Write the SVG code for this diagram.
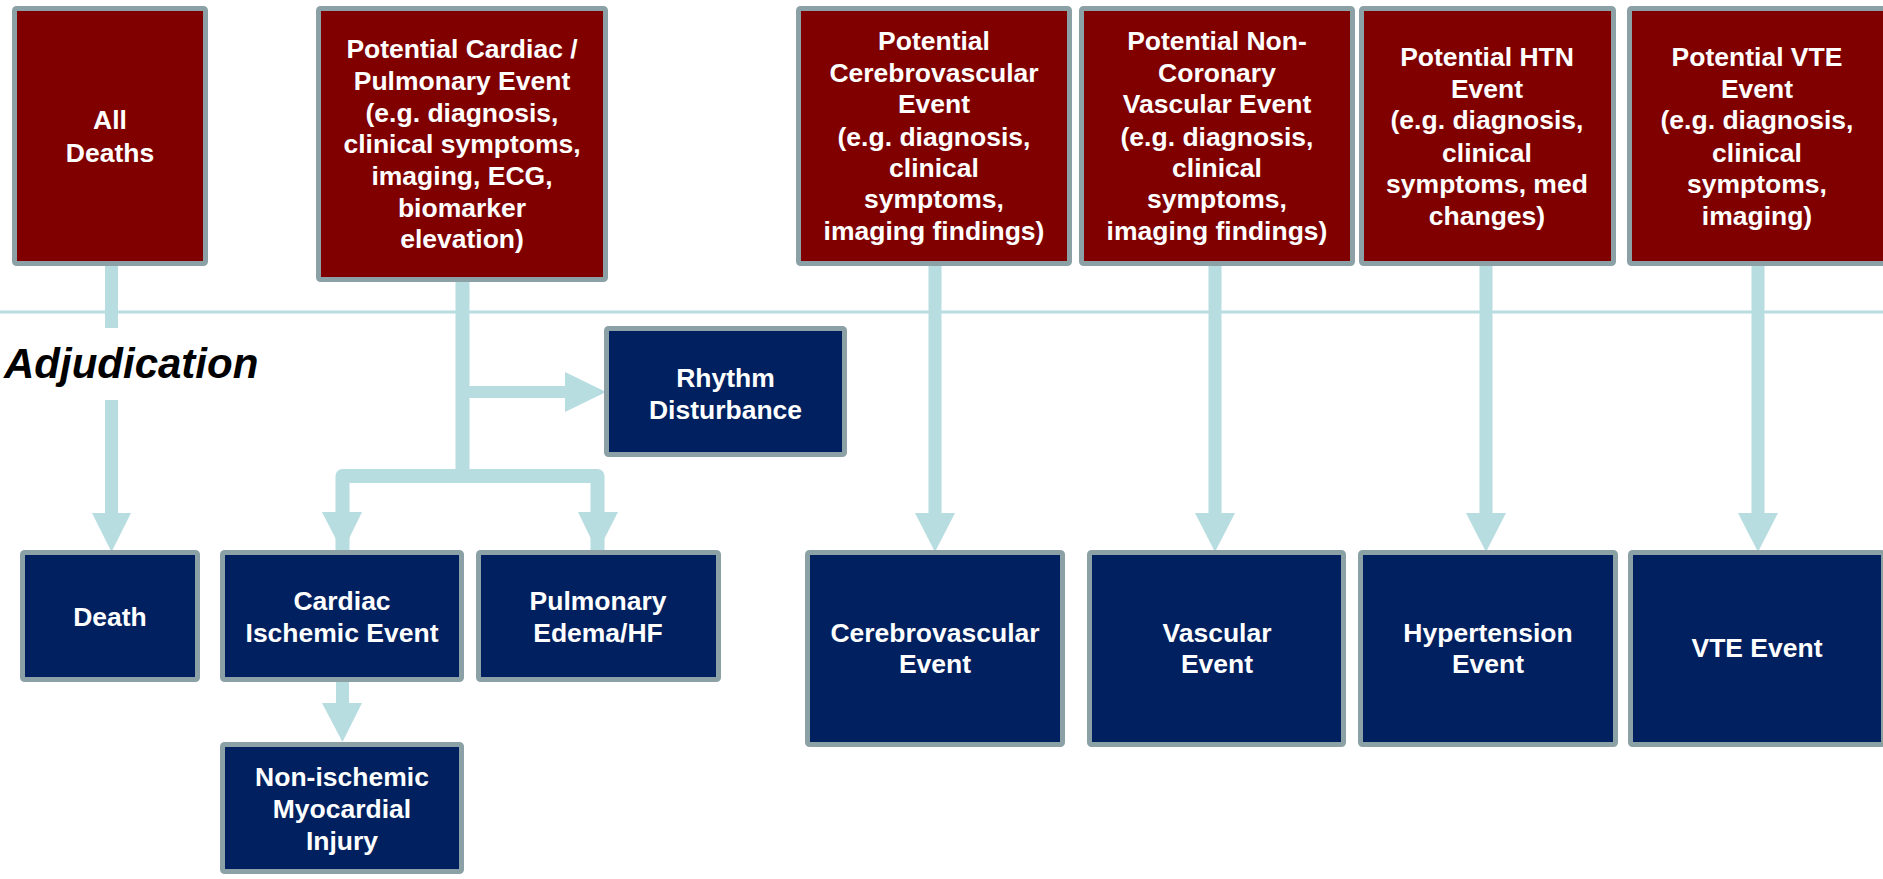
<svg xmlns="http://www.w3.org/2000/svg" width="1883" height="879" viewBox="0 0 1883 879">
<style>
.src{fill:#800000;stroke:#8ba1a5;stroke-width:5}
.out{fill:#002060;stroke:#8ba1a5;stroke-width:5}
.t{font-family:"Liberation Sans",Arial,sans-serif;font-weight:bold;font-size:26.5px;fill:#fff;text-anchor:middle}
.c{fill:#b7dde0}
.cl{fill:none;stroke:#b7dde0;stroke-width:14;stroke-linejoin:round}
</style>
<rect width="1883" height="879" fill="#fff"/>
<line x1="0" y1="312" x2="1883" y2="312" stroke="#b7dde0" stroke-width="3"/>
<text x="4" y="378" font-family="'Liberation Sans',Arial,sans-serif" font-weight="bold" font-style="italic" font-size="42" fill="#000">Adjudication</text>
<g id="connectors">
  <rect class="c" x="105" y="262" width="13" height="66"/>
  <rect class="c" x="105" y="400" width="13" height="114"/>
  <polygon class="c" points="92,513 131,513 111.5,552"/>
  <path class="cl" d="M462.5,278 V476"/>
  <path class="cl" d="M342.5,550 V476 H597.5 V550"/>
  <polygon class="c" points="322,512 362,512 342.5,552"/>
  <polygon class="c" points="578,512 618,512 597.5,552"/>
  <rect class="c" x="462" y="386" width="104" height="12"/>
  <polygon class="c" points="565,372 565,412 606,392"/>
  <rect class="c" x="336" y="680" width="13" height="24"/>
  <polygon class="c" points="322,703 362,703 342.5,742"/>
  <rect class="c" x="928.5" y="262" width="13" height="252"/>
  <polygon class="c" points="915,513 955,513 935,552"/>
  <rect class="c" x="1208.5" y="262" width="13" height="252"/>
  <polygon class="c" points="1195,513 1235,513 1215,552"/>
  <rect class="c" x="1479.5" y="262" width="13" height="252"/>
  <polygon class="c" points="1466,513 1506,513 1486,552"/>
  <rect class="c" x="1751.5" y="262" width="13" height="252"/>
  <polygon class="c" points="1738,513 1778,513 1758,552"/>
</g>
<g id="all-deaths"><rect class="src" x="14.5" y="8.5" width="191" height="255" rx="2"/>
<text class="t" x="110"><tspan x="110" y="129">All</tspan><tspan x="110" y="162">Deaths</tspan></text></g>
<g id="potential-cardiac"><rect class="src" x="318.5" y="8.5" width="287" height="271" rx="2"/>
<text class="t"><tspan x="462" y="58">Potential Cardiac /</tspan><tspan x="462" y="90">Pulmonary Event</tspan><tspan x="462" y="122">(e.g. diagnosis,</tspan><tspan x="462" y="153">clinical symptoms,</tspan><tspan x="462" y="185">imaging, ECG,</tspan><tspan x="462" y="217">biomarker</tspan><tspan x="462" y="248">elevation)</tspan></text></g>
<g id="potential-cerebro"><rect class="src" x="798.5" y="8.5" width="271" height="255" rx="2"/>
<text class="t"><tspan x="934" y="50">Potential</tspan><tspan x="934" y="82">Cerebrovascular</tspan><tspan x="934" y="113">Event</tspan><tspan x="934" y="146">(e.g. diagnosis,</tspan><tspan x="934" y="177">clinical</tspan><tspan x="934" y="208">symptoms,</tspan><tspan x="934" y="240">imaging findings)</tspan></text></g>
<g id="potential-noncoronary"><rect class="src" x="1081.5" y="8.5" width="271" height="255" rx="2"/>
<text class="t"><tspan x="1217" y="50">Potential Non-</tspan><tspan x="1217" y="82">Coronary</tspan><tspan x="1217" y="113">Vascular Event</tspan><tspan x="1217" y="146">(e.g. diagnosis,</tspan><tspan x="1217" y="177">clinical</tspan><tspan x="1217" y="208">symptoms,</tspan><tspan x="1217" y="240">imaging findings)</tspan></text></g>
<g id="potential-htn"><rect class="src" x="1361.5" y="8.5" width="252" height="255" rx="2"/>
<text class="t"><tspan x="1487" y="66">Potential HTN</tspan><tspan x="1487" y="98">Event</tspan><tspan x="1487" y="129">(e.g. diagnosis,</tspan><tspan x="1487" y="162">clinical</tspan><tspan x="1487" y="193">symptoms, med</tspan><tspan x="1487" y="225">changes)</tspan></text></g>
<g id="potential-vte"><rect class="src" x="1629.5" y="8.5" width="256" height="255" rx="2"/>
<text class="t"><tspan x="1757" y="66">Potential VTE</tspan><tspan x="1757" y="98">Event</tspan><tspan x="1757" y="129">(e.g. diagnosis,</tspan><tspan x="1757" y="162">clinical</tspan><tspan x="1757" y="193">symptoms,</tspan><tspan x="1757" y="225">imaging)</tspan></text></g>
<g id="rhythm"><rect class="out" x="606.5" y="328.5" width="238" height="126" rx="2"/>
<text class="t"><tspan x="725.5" y="387">Rhythm</tspan><tspan x="725.5" y="419">Disturbance</tspan></text></g>
<g id="death"><rect class="out" x="22.5" y="552.5" width="175" height="127" rx="2"/>
<text class="t" x="110" y="626">Death</text></g>
<g id="cardiac-ischemic"><rect class="out" x="222.5" y="552.5" width="239" height="127" rx="2"/>
<text class="t"><tspan x="342" y="610">Cardiac</tspan><tspan x="342" y="642">Ischemic Event</tspan></text></g>
<g id="pulmonary"><rect class="out" x="478.5" y="552.5" width="240" height="127" rx="2"/>
<text class="t"><tspan x="598" y="610">Pulmonary</tspan><tspan x="598" y="642">Edema/HF</tspan></text></g>
<g id="non-ischemic"><rect class="out" x="222.5" y="744.5" width="239" height="127" rx="2"/>
<text class="t"><tspan x="342" y="786">Non-ischemic</tspan><tspan x="342" y="818">Myocardial</tspan><tspan x="342" y="850">Injury</tspan></text></g>
<g id="cerebro-event"><rect class="out" x="807.5" y="552.5" width="255" height="192" rx="2"/>
<text class="t"><tspan x="935" y="642">Cerebrovascular</tspan><tspan x="935" y="673">Event</tspan></text></g>
<g id="vascular-event"><rect class="out" x="1089.5" y="552.5" width="254" height="192" rx="2"/>
<text class="t"><tspan x="1217" y="642">Vascular</tspan><tspan x="1217" y="673">Event</tspan></text></g>
<g id="hypertension-event"><rect class="out" x="1360.5" y="552.5" width="255" height="192" rx="2"/>
<text class="t"><tspan x="1488" y="642">Hypertension</tspan><tspan x="1488" y="673">Event</tspan></text></g>
<g id="vte-event"><rect class="out" x="1630.5" y="552.5" width="253" height="192" rx="2"/>
<text class="t" x="1757" y="657">VTE Event</text></g>
</svg>
